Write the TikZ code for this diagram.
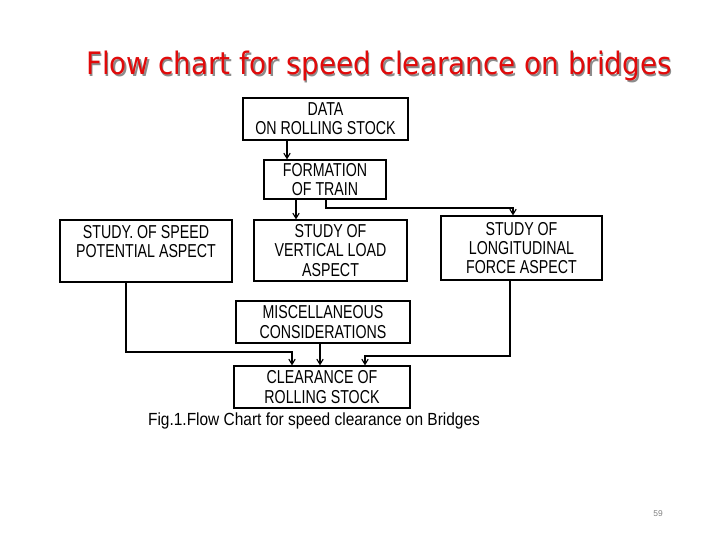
\documentclass[tikz,border=0pt]{standalone}
\usepackage{fontspec}
\setmainfont{Liberation Sans}
\newfontfamily\boxfont[FakeStretch=0.76]{Liberation Sans}
\newfontfamily\capfont[FakeStretch=0.88]{Liberation Sans}
\newfontfamily\titlefont[FakeStretch=0.9]{DejaVu Sans}
\usetikzlibrary{arrows.meta, positioning, calc}
\definecolor{titlered}{RGB}{225,10,10}
\tikzset{
	block/.style={rectangle, draw, line width=0.9pt, align=center, inner sep=1pt, font=\boxfont\fontsize{13.3}{13.6}\selectfont},
	arr/.style={line width=0.8pt, -{Straight Barb[length=1.3mm, width=1.6mm]}}
}

\begin{document}
\begin{tikzpicture}[x=0.025cm, y=-0.025cm]
        \useasboundingbox (0,0) rectangle (720,540);

        \node[text=black!45, font=\titlefont\fontsize{22}{24}\selectfont] (title-shadow) at (380.5,67.5) {Flow chart for speed clearance on bridges};
        \node[text=titlered, font=\titlefont\fontsize{22}{24}\selectfont] (title) at (379,66) {Flow chart for speed clearance on bridges};

        \node[block, minimum width=4.125cm, minimum height=1.05cm] (data) at (325.5,119) {DATA\\ON ROLLING STOCK};
        \node[block, minimum width=3.05cm, minimum height=0.975cm] (form) at (325,179.5) {FORMATION\\OF TRAIN};
        \node[block, minimum width=4.3cm, minimum height=1.55cm] (speed) at (146,251) {STUDY. OF SPEED\\POTENTIAL ASPECT\\\mbox{}};
        \node[block, minimum width=3.825cm, minimum height=1.525cm] (vert) at (330.5,250.5) {STUDY OF\\VERTICAL LOAD\\ASPECT};
        \node[block, minimum width=4.025cm, minimum height=1.6cm] (long) at (521.5,248) {STUDY OF\\LONGITUDINAL\\FORCE ASPECT};
        \node[block, minimum width=4.35cm, minimum height=1.05cm] (misc) at (323,322) {MISCELLANEOUS\\CONSIDERATIONS};
        \node[block, minimum width=4.4cm, minimum height=1.05cm] (clear) at (322,387) {CLEARANCE OF\\ROLLING STOCK};

        \node[font=\capfont\fontsize{12.5}{14}\selectfont] (caption) at (314,421) {Fig.1.Flow Chart for speed clearance on Bridges};
        \node[text=black!50, font=\fontsize{6}{7}\selectfont] (page) at (658,514) {59};

        % columns of the connectors
        \coordinate (x-data) at (287,0);
        \coordinate (x-vert) at (296,0);
        \coordinate (x-form) at (326,0);
        \coordinate (x-long) at (513,0);
        \coordinate (x-speed) at (126,0);
        \coordinate (x-cl) at (292,0);
        \coordinate (x-misc) at (320,0);
        \coordinate (x-lo) at (510,0);
        \coordinate (x-cr) at (365,0);
        \coordinate (row-top) at (0,208);
        \coordinate (row-left) at (0,352);
        \coordinate (row-right) at (0,356);

        \draw[arr] (data.south -| x-data) -- (form.north -| x-data);
        \draw[arr] (form.south -| x-vert) -- (vert.north -| x-vert);
        \draw[arr] (form.south -| x-form) -- (x-form |- row-top) -- (x-long |- row-top) -- (long.north -| x-long);

        \draw[arr] (speed.south -| x-speed) -- (x-speed |- row-left) -- (x-cl |- row-left) -- (clear.north -| x-cl);
        \draw[arr] (misc.south -| x-misc) -- (clear.north -| x-misc);
        \draw[arr] (long.south -| x-lo) -- (x-lo |- row-right) -- (x-cr |- row-right) -- (clear.north -| x-cr);
    \end{tikzpicture}
\end{document}
